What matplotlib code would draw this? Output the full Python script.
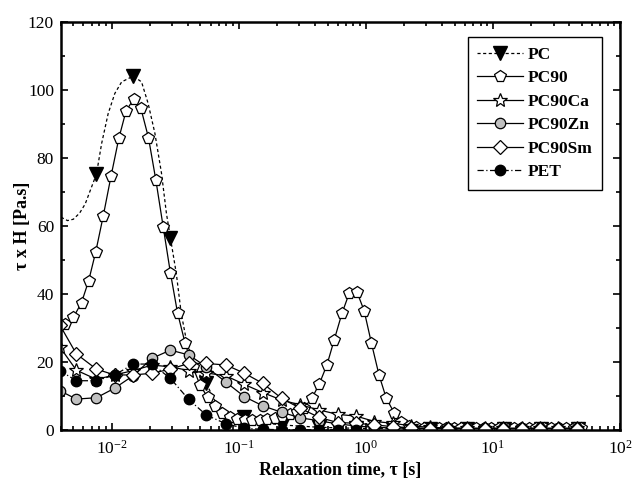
import matplotlib
matplotlib.use("Agg")
import matplotlib.pyplot as plt
from matplotlib.ticker import MultipleLocator, LogLocator

plt.rcParams['font.family'] = ['Liberation Serif', 'DejaVu Serif']
plt.rcParams['mathtext.fontset'] = 'stix'

# ---- data ----
# PC: dashed smooth curve points and marker points
pc_curve_x = [0.0040, 0.0045, 0.0050, 0.0056, 0.0062, 0.0068, 0.0076, 0.00835, 0.0094, 0.0106,
              0.0120, 0.0148, 0.0172, 0.0194, 0.0219, 0.0247, 0.0270, 0.029, 0.0323, 0.0353,
              0.0387, 0.0424, 0.048, 0.0556, 0.0645, 0.0774, 0.093, 0.111, 0.15, 0.218,
              0.43, 0.84, 1.64, 3.2, 6.3, 12.3, 24, 47]
pc_curve_y = [62.6, 61.6, 62.0, 63.8, 66.5, 70.5, 75.3, 84.3, 93.1, 99.0,
              102.4, 104.1, 102.4, 96.0, 87.3, 75.5, 63.7, 56.6, 46.0, 34.3,
              26.5, 21.6, 16.7, 13.7, 8.8, 5.4, 3.9, 3.9, 2.2, 1.5,
              0.8, 0.5, 0.4, 0.3, 0.3, 0.3, 0.3, 0.3]
pc_x = [0.0076, 0.0148, 0.029, 0.0556, 0.111, 0.218, 0.43, 0.84, 1.64, 3.2, 6.3, 12.3, 24, 47]
pc_y = [75.3, 104.1, 56.6, 13.7, 3.9, 1.5, 0.8, 0.5, 0.4, 0.3, 0.3, 0.3, 0.3, 0.3]

pc90_x = [0.0043, 0.0050, 0.0058, 0.0066, 0.0075, 0.0086, 0.0099, 0.0114, 0.0130, 0.0149,
          0.0170, 0.0195, 0.0223, 0.0255, 0.0290, 0.0330, 0.0379, 0.0435, 0.0497, 0.0570,
          0.0650, 0.0745, 0.0850, 0.0975, 0.112, 0.128, 0.146, 0.168, 0.192, 0.219,
          0.251, 0.287, 0.328, 0.376, 0.430, 0.494, 0.564, 0.649, 0.740, 0.850,
          0.970, 1.108, 1.27, 1.45, 1.67, 1.90, 2.18, 2.50, 2.86, 3.27,
          3.75, 4.30, 4.90, 5.60, 6.45, 7.40, 8.50, 9.70, 11.1, 12.7,
          14.6, 16.7, 19.1, 21.9, 25.1, 28.7, 32.9, 37.7, 43.2, 49.5]
pc90_y = [31.2, 33.1, 37.5, 43.9, 52.4, 63.0, 74.7, 85.8, 93.9, 97.3,
          94.6, 86.0, 73.5, 59.6, 46.3, 34.5, 25.5, 18.6, 13.2, 9.6,
          7.0, 5.0, 3.8, 3.2, 2.9, 3.0, 2.9, 3.1, 3.4, 4.1,
          4.6, 5.2, 6.6, 9.3, 13.5, 19.1, 26.5, 34.3, 40.2, 40.7,
          35.1, 25.5, 16.2, 9.3, 5.1, 2.4, 1.3, 0.8, 0.6, 0.5,
          0.5, 0.5, 0.5, 0.5, 0.5, 0.5, 0.5, 0.5, 0.5, 0.5,
          0.5, 0.5, 0.5, 0.5, 0.5, 0.5, 0.5, 0.5, 0.5, 0.5]

grid_x = [0.0039, 0.00528, 0.0076, 0.01056, 0.0148, 0.0208, 0.029, 0.0404, 0.0556, 0.0798,
          0.111, 0.155, 0.218, 0.305, 0.43, 0.60, 0.84, 1.17, 1.64, 2.28,
          3.18, 4.43, 6.2, 8.6, 12.0, 16.8, 23.4, 32.6, 45.5]
ca_y = [24.5, 17.6, 14.9, 16.2, 17.5, 19.1, 18.6, 17.5, 16.8, 15.9,
        13.4, 11.0, 8.8, 7.4, 5.9, 4.6, 4.1, 2.5, 2.0, 1.2,
        0.8, 0.6, 0.5, 0.5, 0.5, 0.5, 0.5, 0.5, 0.5]
zn_y = [11.6, 9.1, 9.5, 12.3, 16.0, 21.1, 23.5, 22.1, 18.6, 14.0,
        9.8, 7.1, 5.2, 3.6, 2.7, 1.8, 1.2, 0.8, 0.6, 0.5,
        0.5, 0.5, 0.5, 0.5, 0.5, 0.5, 0.5, 0.5, 0.5]
sm_y = [31.0, 22.4, 17.9, 16.2, 16.2, 16.7, 17.9, 19.6, 19.6, 19.1,
        16.7, 13.7, 9.3, 6.4, 3.7, 2.2, 2.0, 1.5, 1.0, 0.6,
        0.4, 0.4, 0.4, 0.4, 0.4, 0.4, 0.4, 0.4, 0.4]
pet_x = [0.0039, 0.00528, 0.0076, 0.01056, 0.0148, 0.0208, 0.029, 0.0404, 0.0556, 0.0798,
         0.111, 0.155, 0.218, 0.305, 0.43, 0.60, 0.84]
pet_y = [17.5, 14.5, 14.5, 16.2, 19.4, 19.4, 15.2, 9.0, 4.4, 1.8,
         0.5, 0.2, 0.1, 0.1, 0.1, 0.1, 0.05]

labels = ['PC', 'PC90', 'PC90Ca', 'PC90Zn', 'PC90Sm', 'PET']

fig = plt.figure(figsize=(6.33, 4.90), dpi=100)
ax = fig.add_axes([0.0964, 0.1224, 0.8831, 0.8326])

k = dict(color='black', lw=0.9, markeredgecolor='black', markeredgewidth=0.9)
PCLS = (0, (2.5, 2))
PETLS = (0, (5, 2, 1, 2))
# PC
ax.plot(pc_curve_x, pc_curve_y, linestyle=PCLS, color='black', lw=0.9)
ax.plot(pc_x, pc_y, linestyle='none', marker='v', ms=9.5, markerfacecolor='black',
        markeredgecolor='black')
# PC90
ax.plot(pc90_x, pc90_y, '-', marker='p', ms=8.5, markerfacecolor='white', **k)
# PC90Ca
ax.plot(grid_x, ca_y, '-', marker='*', ms=10, markerfacecolor='white', **k)
# PC90Zn
ax.plot(grid_x, zn_y, '-', marker='o', ms=7.5, markerfacecolor='#c0c0c0', **k)
# PC90Sm
ax.plot(grid_x, sm_y, '-', marker='D', ms=7.5, markerfacecolor='white', **k)
# PET
ax.plot(pet_x, pet_y, linestyle=PETLS, marker='o', ms=7.5,
        markerfacecolor='black', color='black', lw=0.9)

# legend handles
h = []
h.append(ax.plot([], [], linestyle=PCLS, marker='v', ms=9.5, color='black', lw=0.9)[0])
h.append(ax.plot([], [], '-', marker='p', ms=8.5, markerfacecolor='white', **k)[0])
h.append(ax.plot([], [], '-', marker='*', ms=10, markerfacecolor='white', **k)[0])
h.append(ax.plot([], [], '-', marker='o', ms=7.5, markerfacecolor='#c0c0c0', **k)[0])
h.append(ax.plot([], [], '-', marker='D', ms=7.5, markerfacecolor='white', **k)[0])
h.append(ax.plot([], [], linestyle=PETLS, marker='o', ms=7.5, color='black', lw=0.9)[0])
leg = ax.legend(h, labels, loc='upper right', bbox_to_anchor=(0.968, 0.963), borderaxespad=0,
                numpoints=1, frameon=True, fancybox=False, edgecolor='black', framealpha=1,
                prop={'family': 'Liberation Serif', 'weight': 'bold', 'size': 12.5},
                handlelength=2.6, handletextpad=0.3, labelspacing=0.42, borderpad=0.55)
leg.get_frame().set_linewidth(1.0)

ax.set_xscale('log')
ax.set_xlim(0.004, 100)
ax.set_ylim(0, 120)
ax.yaxis.set_major_locator(MultipleLocator(20))
ax.yaxis.set_minor_locator(MultipleLocator(10))
ax.xaxis.set_minor_locator(LogLocator(base=10, subs=range(2, 10), numticks=20))

ax.tick_params(which='both', direction='in', top=True, right=True, labelsize=12.5, width=1.2)
ax.tick_params(which='major', length=5, pad=5)
ax.tick_params(which='minor', length=3)
ax.tick_params(axis='x', which='major', pad=7)
for s in ax.spines.values():
    s.set_linewidth(1.8)

ax.set_xlabel('Relaxation time, τ [s]', fontsize=13, fontweight='bold', labelpad=3)
ax.set_ylabel('τ x H [Pa.s]', fontsize=13, fontweight='bold', labelpad=-2)

fig.savefig('out.png', dpi=100)
